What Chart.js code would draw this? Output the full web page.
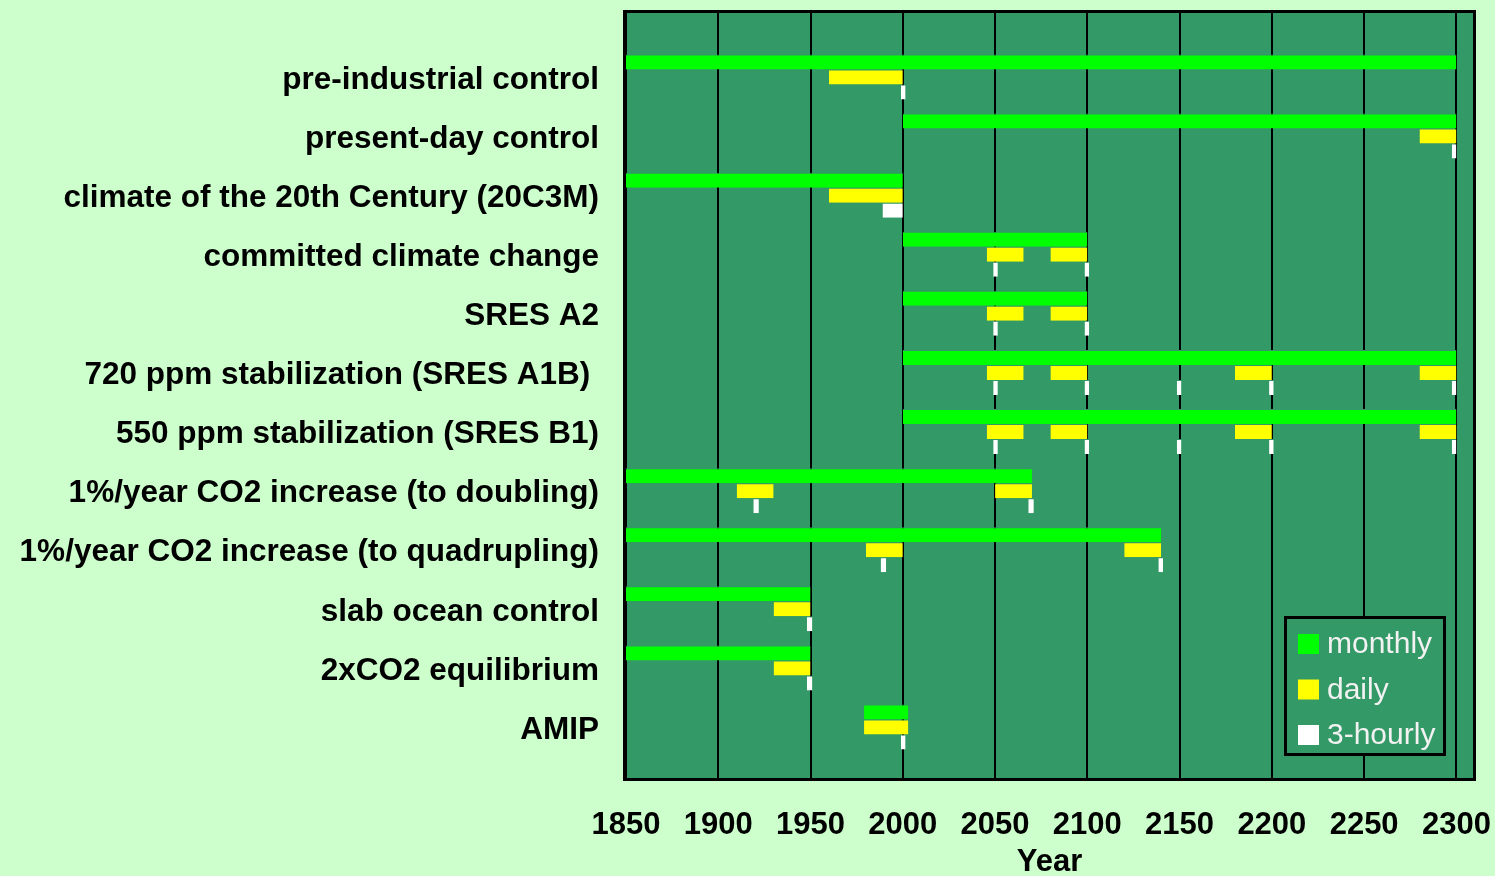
<!DOCTYPE html>
<html>
<head>
<meta charset="utf-8">
<title>CMIP run timeline</title>
<script src="https://cdn.jsdelivr.net/npm/chart.js@4.4.1/dist/chart.umd.min.js"></script>
<style>
  html, body { margin: 0; padding: 0; background: #ccffcc; overflow: hidden; }
  #timeline { display: block; }
</style>
</head>
<body>
<canvas id="timeline" width="1495" height="890"></canvas>
<script>
// experiments, top to bottom
const experiments = [
  'pre-industrial control',
  'present-day control',
  'climate of the 20th Century (20C3M)',
  'committed climate change',
  'SRES A2',
  '720 ppm stabilization (SRES A1B) ',
  '550 ppm stabilization (SRES B1)',
  '1%/year CO2 increase (to doubling)',
  '1%/year CO2 increase (to quadrupling)',
  'slab ocean control',
  '2xCO2 equilibrium',
  'AMIP'
];

// [start year, end year] of each output period, one list per experiment
const monthlyRuns = [
  [[1850, 2300]],
  [[2000, 2300]],
  [[1850, 2000]],
  [[2000, 2100]],
  [[2000, 2100]],
  [[2000, 2300]],
  [[2000, 2300]],
  [[1850, 2070]],
  [[1850, 2140]],
  [[1850, 1950]],
  [[1850, 1950]],
  [[1979, 2003]]
];

const dailyRuns = [
  [[1960, 2000]],
  [[2280, 2300]],
  [[1960, 2000]],
  [[2045.5, 2065.5], [2080, 2100]],
  [[2045.5, 2065.5], [2080, 2100]],
  [[2045.5, 2065.5], [2080, 2100], [2180, 2200], [2280, 2300]],
  [[2045.5, 2065.5], [2080, 2100], [2180, 2200], [2280, 2300]],
  [[1910, 1930], [2050, 2070]],
  [[1980, 2000], [2120, 2140]],
  [[1930, 1950]],
  [[1930, 1950]],
  [[1979, 2003]]
];

const hourlyRuns = [
  [[1999, 2001.5]],
  [[2297.5, 2300]],
  [[1989, 2000]],
  [[2049, 2051.5], [2098.5, 2101]],
  [[2049, 2051.5], [2098.5, 2101]],
  [[2049, 2051.5], [2098.5, 2101], [2148.5, 2151], [2198.5, 2201], [2297.5, 2300]],
  [[2049, 2051.5], [2098.5, 2101], [2148.5, 2151], [2198.5, 2201], [2297.5, 2300]],
  [[1919, 1922], [2068, 2071]],
  [[1988, 1991], [2138.5, 2141]],
  [[1948, 1951]],
  [[1948, 1951]],
  [[1999, 2001.5]]
];

const yearTicks = [1850, 1900, 1950, 2000, 2050, 2100, 2150, 2200, 2250, 2300];

const seriesNames = ['monthly', 'daily', '3-hourly'];
const seriesColors = ['#00ff00', '#ffff00', '#ffffff'];

const plotGreen = '#339966';
const fontFamily = "'Liberation Sans', Arial, sans-serif";

// turn the per-row lists into {y: row, x: [start, end]} points
function toPoints(runs) {
  const pts = [];
  runs.forEach((list, row) => {
    list.forEach(span => pts.push({ y: row, x: span }));
  });
  return pts;
}

// green plot area with a heavy black frame
const plotFrame = {
  id: 'plotFrame',
  beforeDraw(chart) {
    const { ctx, chartArea: a } = chart;
    ctx.save();
    ctx.fillStyle = plotGreen;
    ctx.fillRect(a.left, a.top, a.right - a.left, a.bottom - a.top);
    ctx.restore();
  },
  afterDraw(chart) {
    const { ctx, chartArea: a } = chart;
    ctx.save();
    ctx.strokeStyle = '#000';
    ctx.lineWidth = 3;
    ctx.strokeRect(a.left - 1.5, a.top - 1.5, a.right - a.left + 3, a.bottom - a.top + 3);
    ctx.restore();
  }
};

// boxed legend in the lower right corner of the plot
const boxLegend = {
  id: 'boxLegend',
  afterDraw(chart) {
    const { ctx } = chart;
    const x = 1285.5, y = 617.5, w = 159, h = 137;
    ctx.save();
    ctx.fillStyle = plotGreen;
    ctx.fillRect(x, y, w, h);
    ctx.strokeStyle = '#000';
    ctx.lineWidth = 3;
    ctx.strokeRect(x, y, w, h);
    ctx.font = '30px ' + fontFamily;
    ctx.textBaseline = 'middle';
    chart.data.datasets.forEach((ds, i) => {
      const rowY = 634 + i * 45.5;
      ctx.fillStyle = ds.backgroundColor;
      ctx.fillRect(1298, rowY, 21, 20);
      ctx.fillStyle = '#f2f2f2';
      ctx.fillText(ds.label, 1327, rowY + 11);
    });
    ctx.restore();
  }
};

const datasets = [monthlyRuns, dailyRuns, hourlyRuns].map((runs, i) => ({
  label: seriesNames[i],
  data: toPoints(runs),
  backgroundColor: seriesColors[i],
  borderColor: plotGreen,
  borderWidth: { top: 1, bottom: 0, left: 0, right: 0 },
  borderSkipped: false,
  barThickness: 15,
  inflateAmount: 0
}));

const chart = new Chart(document.getElementById('timeline'), {
  type: 'bar',
  data: { datasets },
  options: {
    indexAxis: 'y',
    responsive: false,
    devicePixelRatio: 1,
    animation: false,
    layout: { padding: { top: 13, right: 22, bottom: 0, left: 0 } },
    plugins: {
      legend: { display: false },
      tooltip: { enabled: false }
    },
    scales: {
      x: {
        type: 'linear',
        position: 'bottom',
        min: 1850,
        max: 2309,
        afterBuildTicks: s => { s.ticks = yearTicks.map(v => ({ value: v })); },
        afterFit: s => {
          s.height = 112;
          s.paddingLeft = 0;
          s.paddingRight = 0;
        },
        grid: { color: '#000', lineWidth: 2, drawTicks: false },
        border: { display: false },
        ticks: {
          autoSkip: false,
          maxRotation: 0,
          padding: 29,
          color: '#000',
          font: { family: fontFamily, size: 31, weight: 'bold' },
          callback: v => String(v)
        },
        title: {
          display: true,
          text: 'Year',
          color: '#000',
          padding: { top: 0, bottom: 9 },
          font: { family: fontFamily, size: 31, weight: 'bold' }
        }
      },
      y: {
        type: 'linear',
        reverse: true,
        offset: false,
        min: -1.083,
        max: 11.863,
        afterBuildTicks: s => { s.ticks = experiments.map((_, i) => ({ value: i })); },
        afterFit: s => {
          s.width = 626;
          s.paddingTop = 0;
          s.paddingBottom = 0;
        },
        grid: { display: false, drawTicks: false },
        border: { display: false },
        ticks: {
          autoSkip: false,
          padding: 27,
          labelOffset: 3,
          color: '#000',
          font: { family: fontFamily, size: 31.5, weight: 'bold' },
          callback: v => experiments[v]
        }
      }
    }
  },
  plugins: [plotFrame, boxLegend]
});
</script>
</body>
</html>
